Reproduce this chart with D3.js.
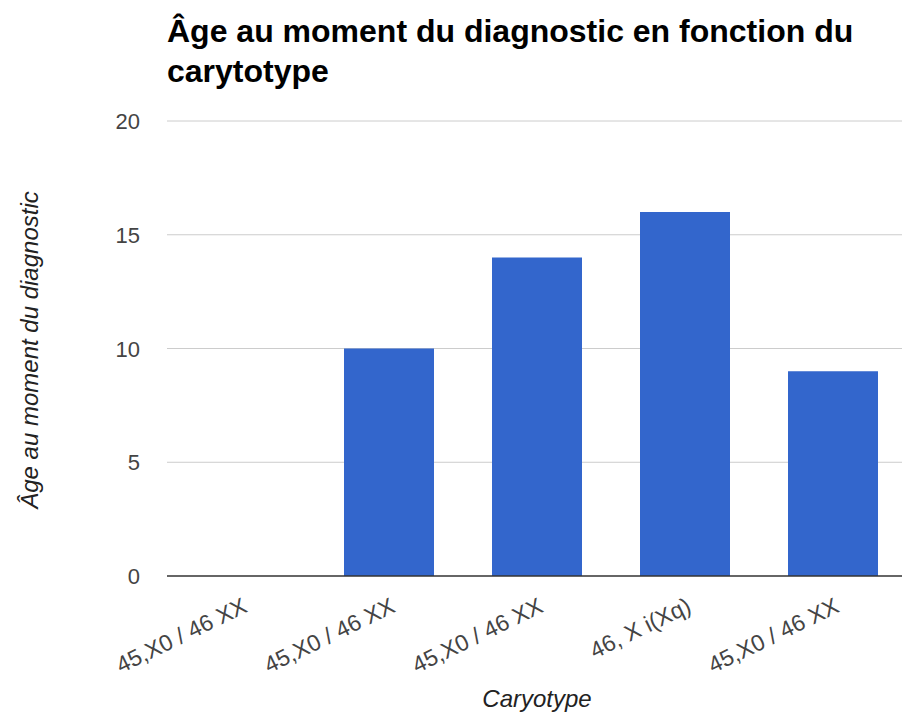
<!DOCTYPE html>
<html>
<head>
  <meta charset="utf-8">
  <title>Âge au moment du diagnostic</title>
  <style>
  body { margin: 0; background: #fff; }
  text { font-family: Arial, "Liberation Sans", sans-serif; }
  .grid line { stroke: #ccc; }
  .tick text { fill: #444; font-size: 22px; }
  </style>
</head>
<body>
  <div id="chart"></div>
  <script src="https://d3js.org/d3.v7.min.js"></script>
  <script>
    var width = 902;
    var height = 716;

    var categories = ["45,X0 / 46 XX", "45,X0 / 46 XX", "45,X0 / 46 XX", "46, X i(Xq)", "45,X0 / 46 XX"];
    var ages = [0, 10, 14, 16, 9];
    var yTicks = [0, 5, 10, 15, 20];
    var titleLines = ["Âge au moment du diagnostic en fonction du", "carytotype"];

    var svg = d3.select("#chart").append("svg")
        .attr("width", width)
        .attr("height", height);

    // bands are keyed by index because several labels repeat
    var x = d3.scaleBand()
        .domain(d3.range(categories.length))
        .range([167, 907])
        .paddingInner(0.392)
        .paddingOuter(0.196);

    var y = d3.scaleLinear()
        .domain([0, 20])
        .range([576, 121]);

    // gridlines
    svg.append("g")
        .attr("class", "grid")
      .selectAll("line")
      .data(yTicks.slice(1))
      .enter().append("line")
        .attr("x1", 167)
        .attr("x2", width)
        .attr("y1", function(d) { return y(d); })
        .attr("y2", function(d) { return y(d); });

    // y axis labels
    var yAxis = svg.append("g")
        .attr("transform", "translate(167,0)")
        .call(d3.axisLeft(y).tickValues(yTicks).tickSize(0).tickPadding(27));
    yAxis.select(".domain").remove();
    yAxis.selectAll(".tick text").attr("dy", "0.35em");

    // bars
    svg.append("g")
      .selectAll("rect")
      .data(ages)
      .enter().append("rect")
        .attr("x", function(d, i) { return x(i); })
        .attr("y", function(d) { return y(d); })
        .attr("width", x.bandwidth())
        .attr("height", function(d) { return y(0) - y(d); })
        .attr("fill", "#3366cc");

    // baseline
    svg.append("line")
        .attr("x1", 167)
        .attr("x2", width)
        .attr("y1", y(0))
        .attr("y2", y(0))
        .attr("stroke", "#333")
        .attr("stroke-width", 1.5);

    // x axis labels, slanted
    var xAxis = svg.append("g")
        .attr("transform", "translate(0," + y(0) + ")")
        .call(d3.axisBottom(x).tickSize(0).tickFormat(function(i) { return categories[i]; }));
    xAxis.select(".domain").remove();
    xAxis.selectAll(".tick text")
        .attr("text-anchor", "end")
        .attr("transform", "translate(4,28) rotate(-26)")
        .attr("dy", "0.35em")
        .attr("y", 0)
        .style("font-size", "23px");

    // axis titles
    svg.append("text")
        .attr("x", (167 + 907) / 2)
        .attr("y", 707)
        .attr("text-anchor", "middle")
        .attr("font-style", "italic")
        .attr("font-size", 24)
        .attr("fill", "#222")
        .text("Caryotype");

    svg.append("text")
        .attr("transform", "translate(38,350) rotate(-90)")
        .attr("text-anchor", "middle")
        .attr("font-style", "italic")
        .attr("font-size", 24)
        .attr("fill", "#222")
        .text("Âge au moment du diagnostic");

    // title
    svg.append("text")
        .attr("x", 167)
        .attr("y", 42)
        .attr("font-weight", "bold")
        .attr("font-size", 32)
        .attr("fill", "#000")
      .selectAll("tspan")
      .data(titleLines)
      .enter().append("tspan")
        .attr("x", 167)
        .attr("dy", function(d, i) { return i ? 40 : 0; })
        .text(function(d) { return d; });
  </script>
</body>
</html>
